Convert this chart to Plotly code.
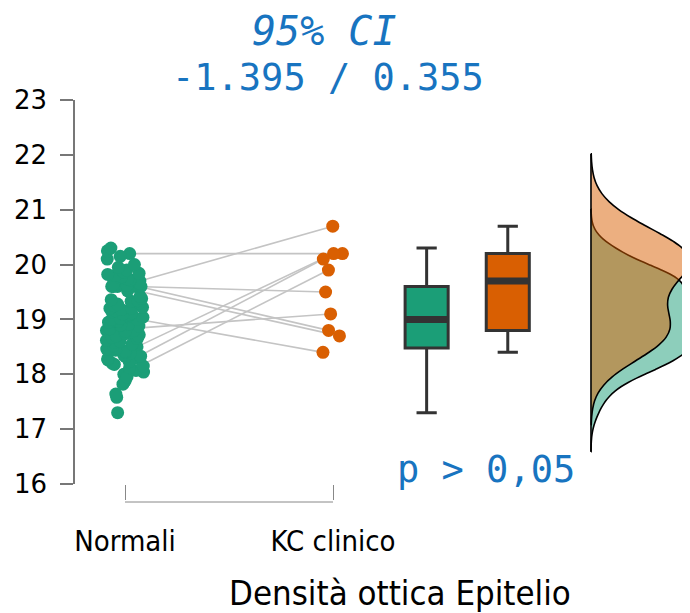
import numpy as np
import plotly.graph_objects as go

# ---------------- data ----------------
categories = ["Normali", "KC clinico"]
# first 10 Normali values are paired with the 10 KC clinico values
normali = [20.2, 19.7, 19.6, 19.7, 19.6, 19.0, 18.8, 18.5, 18.3, 18.0,
           17.3, 17.58, 17.64, 17.82, 17.88, 17.95, 18.04, 18.07, 18.12, 18.15,
           18.18, 18.2, 18.23, 18.26, 18.28, 18.32, 18.35, 18.33, 18.38, 18.4,
           18.42, 18.44, 18.46,
           18.52, 18.55, 18.58, 18.6, 18.62, 18.65, 18.67, 18.7, 18.72, 18.74,
           18.7, 18.77, 18.8, 18.83, 18.85, 18.78, 18.88, 18.9, 18.92, 18.95,
           18.9, 18.97,
           19.0, 19.0, 19.02, 19.04, 19.06,
           19.08, 19.1, 19.12, 19.14, 19.1, 19.16, 19.18, 19.2, 19.22, 19.25,
           19.2, 19.28, 19.3, 19.33, 19.36, 19.34, 19.38, 19.42, 19.52,
           19.6, 19.6, 19.6, 19.62, 19.64,
           19.66, 19.72, 19.74, 19.76, 19.78, 19.8, 19.82, 19.84, 19.86, 19.9,
           19.95, 20.0, 20.1, 20.15, 20.25, 20.3]
kc_clinico = [20.2, 20.7, 19.5, 18.8, 18.7, 18.4, 19.1, 20.2, 20.1, 19.9]
ci_low, ci_high = -1.395, 0.355
p_label = "p > 0,05"
y_ticks = [16, 17, 18, 19, 20, 21, 22, 23]
x_title = "Densità ottica Epitelio"

# ---------------- styling / layout constants ----------------
GREEN = "#1B9E77"
ORANGE = "#D95F02"
BLUE = "#1874C0"
DARK = "#333333"
AXIS = "#777777"
X_NORM, X_KC = 1.0, 2.0
X_BOX = [2.45, 2.84]
BOX_W = 0.207
X_VIOL = 3.24
ORANGE_PEAK_UNITS = 0.471   # horizontal extent of the KC density peak

g = np.array(normali)
k = np.array(kc_clinico)

rng = np.random.default_rng(7)
jit_g = rng.uniform(-0.09, 0.09, len(g))
jit_k = rng.uniform(-0.1, 0.05, len(k))
xg = X_NORM + jit_g
xk = X_KC + jit_k


def nrd0(x):
    q1, q3 = np.percentile(x, [25, 75])
    lo = min(np.std(x, ddof=1), (q3 - q1) / 1.34)
    return 0.9 * lo * len(x) ** -0.2


def kde_max(x, bw, span):
    grid = np.linspace(span[0], span[1], 600)
    d = np.exp(-0.5 * ((grid[:, None] - x[None, :]) / bw) ** 2).sum(1)
    return (d / (len(x) * bw * np.sqrt(2 * np.pi))).max()


fig = go.Figure()

# paired lines
for i in range(len(k)):
    fig.add_trace(go.Scatter(x=[xg[i], xk[i]], y=[g[i], k[i]], mode="lines",
                             line=dict(color="#C4C4C4", width=1.6),
                             hoverinfo="skip", showlegend=False))

fig.add_trace(go.Scatter(x=xg, y=g, mode="markers",
                         marker=dict(color=GREEN, size=13, line=dict(width=0)),
                         showlegend=False, hoverinfo="y"))
fig.add_trace(go.Scatter(x=xk, y=k, mode="markers",
                         marker=dict(color=ORANGE, size=13, line=dict(width=0)),
                         showlegend=False, hoverinfo="y"))

# boxplots
for data, pos, col in [(g, X_BOX[0], GREEN), (k, X_BOX[1], ORANGE)]:
    fig.add_trace(go.Box(y=data, x0=pos, width=BOX_W, boxpoints=False,
                         fillcolor=col, line=dict(color=DARK, width=3),
                         whiskerwidth=0.47, quartilemethod="linear",
                         showlegend=False, hoverinfo="skip"))
    med = float(np.median(data))
    fig.add_trace(go.Scatter(x=[pos - BOX_W / 2, pos + BOX_W / 2], y=[med, med],
                             mode="lines", line=dict(color=DARK, width=7),
                             hoverinfo="skip", showlegend=False))

# half violins (densities on a common density scale)
specs = []
for data, col in [(g, "rgba(27,158,119,0.5)"), (k, "rgba(217,95,2,0.5)")]:
    bw = nrd0(data)
    span = [float(data.min() - 3 * bw), float(data.max() + 3 * bw)]
    specs.append((data, col, bw, span, kde_max(data, bw, span)))
ref_max = specs[1][4]
for data, col, bw, span, dmax in specs:
    # with an explicit width plotly scales each violin to its own peak,
    # so the width is set proportional to that peak density
    w = 2 * ORANGE_PEAK_UNITS * dmax / ref_max
    fig.add_trace(go.Violin(y=data, x0=X_VIOL, side="positive", width=w,
                            bandwidth=bw, spanmode="manual", span=span,
                            fillcolor=col, line=dict(color="black", width=1.6),
                            points=False, box=dict(visible=False),
                            meanline=dict(visible=False),
                            showlegend=False, hoverinfo="skip"))
lo = min(s[3][0] for s in specs)
hi = max(s[3][1] for s in specs)
fig.add_trace(go.Scatter(x=[X_VIOL, X_VIOL], y=[lo, hi], mode="lines",
                         line=dict(color="black", width=1.6),
                         hoverinfo="skip", showlegend=False))

# x bracket line between the two categories
fig.add_shape(type="line", xref="x", yref="paper", x0=X_NORM, x1=X_KC, y0=0, y1=0,
              line=dict(color="#888888", width=1))

ann_font = dict(family="DejaVu Sans Mono", size=37, color=BLUE)
fig.add_annotation(text="95% CI", xref="paper", yref="paper", x=0.405, y=1.172,
                   showarrow=False, xanchor="center", yanchor="middle",
                   font=dict(family="DejaVu Sans Mono", size=40, color=BLUE,
                             style="italic"))
fig.add_annotation(text=f"{ci_low:.3f} / {ci_high:.3f}", xref="paper", yref="paper",
                   x=0.411, y=1.055, showarrow=False, xanchor="center",
                   yanchor="middle", font=ann_font)
fig.add_annotation(text=p_label, xref="paper", yref="paper", x=0.6675, y=0.08,
                   showarrow=False, xanchor="center", yanchor="middle",
                   font=ann_font)
fig.add_annotation(text=x_title, xref="paper", yref="paper", x=0.5285, y=-0.226,
                   showarrow=False, xanchor="center", yanchor="middle",
                   font=dict(family="DejaVu Sans Condensed", size=34.5, color="black"))

fig.update_layout(
    width=682, height=605,
    margin=dict(l=67, r=0, t=92, b=111),
    plot_bgcolor="white", paper_bgcolor="white",
    showlegend=False,
    xaxis=dict(range=[0.7596, 3.716], showgrid=False, zeroline=False,
               showline=False, tickmode="array", tickvals=[X_NORM, X_KC],
               ticktext=categories, ticks="outside", ticklen=15, tickwidth=1,
               tickcolor="#888888", ticklabelstandoff=16,
               tickfont=dict(family="DejaVu Sans Condensed", size=29, color="black")),
    yaxis=dict(range=[16, 23], domain=[0.0448, 1], showgrid=False, zeroline=False,
               showline=True, linecolor=AXIS, linewidth=1.5,
               tickmode="array", tickvals=y_ticks, ticks="outside", ticklen=13,
               tickwidth=1.5, tickcolor=AXIS, ticklabelstandoff=8,
               tickfont=dict(family="DejaVu Sans", size=26, color="black")),
)

fig.write_html("out.html")
